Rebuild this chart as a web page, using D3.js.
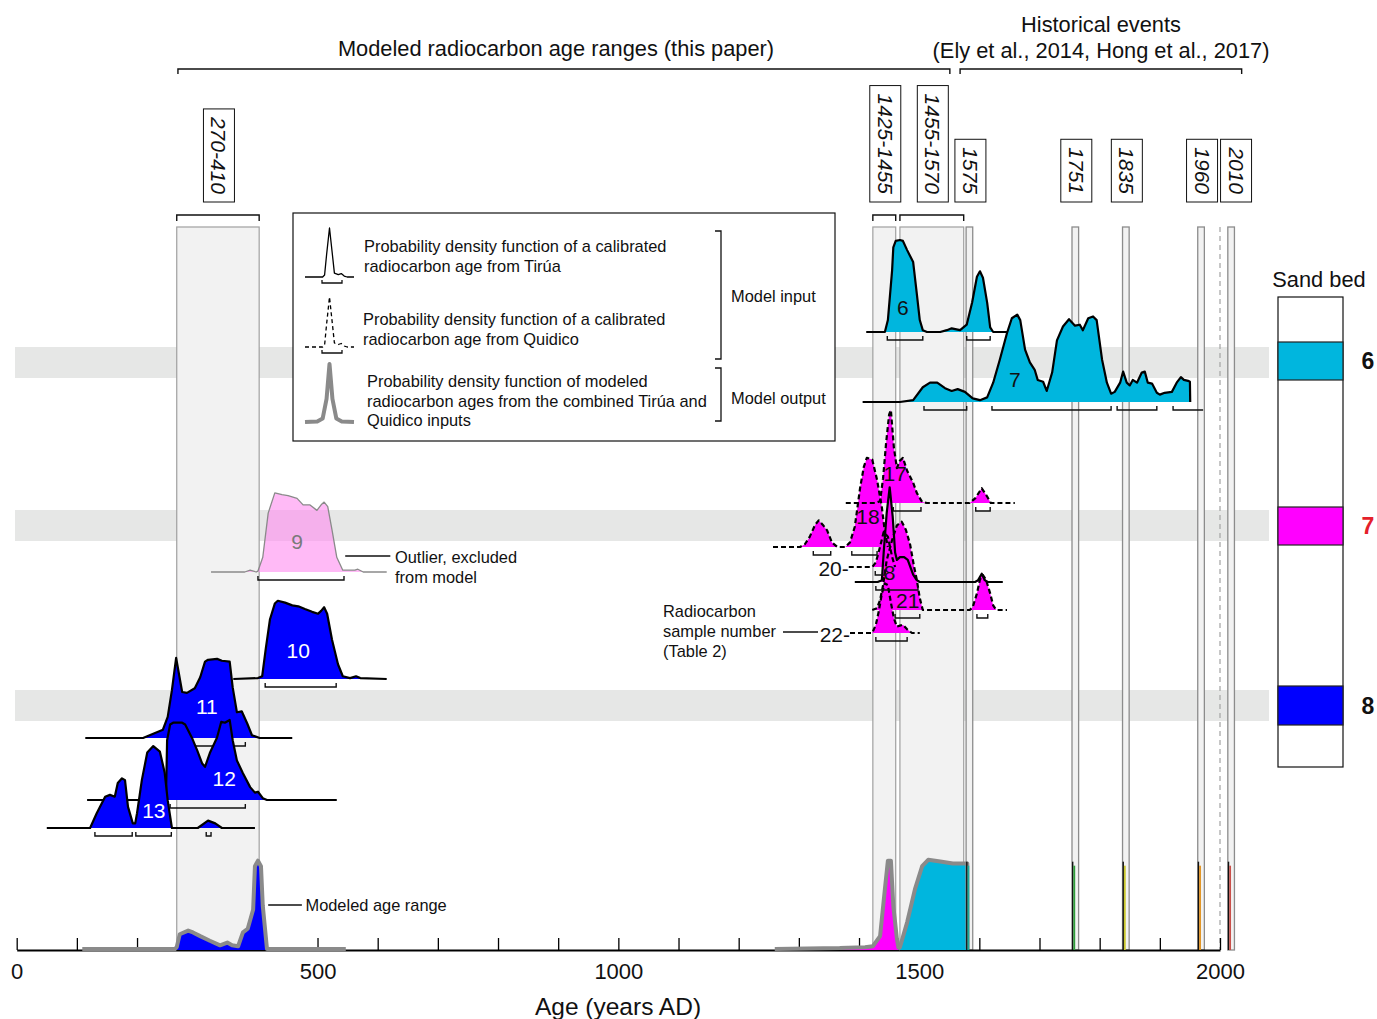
<!DOCTYPE html>
<html>
<head>
<meta charset="utf-8">
<script src="https://cdn.jsdelivr.net/npm/d3@7"></script>
<style>
  body { margin: 0; background: #fff; }
  svg text { font-family: "Liberation Sans", Arial, Helvetica, sans-serif; fill: #111; }
</style>
</head>
<body>
<svg id="chart" width="1377" height="1019"></svg>
<script>
// ---- data (years AD, relative probability 0-100) ----
const ageTicks = d3.range(0, 2001, 100);
const ageLabels = [0, 500, 1000, 1500, 2000];

const rangeLabels = ['270-410', '1425-1455', '1455-1570'];
const rangeSpans = [[266, 403], [1423, 1461], [1468, 1574]];

const eventYears = [1575, 1751, 1835, 1960, 2010];
const eventColors = ['#1aa89a', '#2e9e3a', '#c9c72e', '#e0901c', '#c8504a'];
const eventPeak = [96, 96, 96, 96, 96];
const presentYear = 2000;

// sand bed 8 (blue)
const s9 = [[323,0],[379,0],[388,2],[398,0],[401,1],[409,16],[418,64],[429,86],[441,84],[451,83],[466,80],[476,73],[487,73],[499,67],[506,73],[511,76],[517,71],[524,46],[532,16],[542,2],[562,2],[567,3],[576,0],[615,0]];
const s10 = [[360,0],[401,1],[408,3],[414,33],[421,65],[429,82],[434,85],[446,83],[458,80],[468,79],[479,76],[491,73],[501,71],[506,74],[511,78],[516,71],[524,43],[534,16],[542,3],[554,1],[564,3],[571,1],[615,0]];
const s11 = [[114,0],[210,0],[243,9],[251,23],[258,52],[265,87],[275,50],[283,49],[296,54],[305,66],[313,83],[318,85],[333,86],[341,84],[354,83],[359,55],[366,28],[374,29],[383,16],[391,3],[404,0],[458,0]];
const s12 = [[117,0],[248,0],[250,65],[255,82],[260,84],[275,84],[280,82],[291,68],[300,54],[308,40],[313,36],[321,51],[333,68],[340,85],[346,84],[354,87],[359,65],[366,43],[376,29],[388,14],[396,8],[401,9],[409,2],[416,0],[532,0]];
const s13 = [[50,0],[122,0],[133,16],[147,34],[155,36],[163,34],[168,49],[175,54],[180,52],[185,23],[193,5],[197,5],[200,16],[208,52],[217,82],[227,89],[238,83],[246,60],[251,30],[258,0],[301,0],[318,8],[330,5],[341,0],[396,0]];

// sand bed 6 (cyan)
const s6 = [[1412,0],[1443,0],[1448,13],[1455,67],[1457,92],[1461,99],[1468,100],[1473,99],[1480,89],[1490,76],[1496,42],[1501,13],[1506,2],[1513,0],[1535,0],[1546,2],[1554,4],[1568,2],[1579,8],[1588,32],[1596,60],[1601,66],[1606,59],[1613,32],[1618,5],[1623,0],[1659,0]];
const s7 = [[1406,0],[1468,0],[1490,2],[1506,16],[1518,21],[1530,21],[1543,15],[1554,12],[1564,14],[1576,11],[1589,4],[1601,2],[1613,5],[1623,21],[1634,46],[1646,75],[1654,91],[1663,95],[1668,89],[1676,57],[1684,43],[1692,35],[1697,24],[1706,22],[1712,12],[1721,32],[1729,67],[1739,82],[1749,90],[1759,83],[1767,84],[1772,78],[1781,91],[1789,93],[1795,89],[1804,46],[1812,21],[1819,9],[1825,11],[1834,21],[1839,33],[1845,21],[1850,18],[1855,24],[1862,21],[1870,32],[1875,33],[1880,21],[1887,20],[1895,10],[1900,8],[1908,10],[1920,11],[1928,21],[1935,27],[1940,24],[1947,23],[1950,22],[1950.5,0]];

// sand bed 7 (magenta)
const s17 = [[1378,0],[1427,0],[1435,2],[1440,27],[1445,65],[1450,96],[1453,101],[1458,60],[1463,38],[1468,46],[1473,49],[1480,35],[1490,22],[1496,11],[1505,1],[1513,0],[1584,0],[1593,5],[1604,16],[1613,7],[1619,0],[1659,0]];
const s18 = [[1257,0],[1302,0],[1310,3],[1318,11],[1327,24],[1333,29],[1340,24],[1347,18],[1355,5],[1364,0],[1377,0],[1385,5],[1393,22],[1402,65],[1408,87],[1413,97],[1422,95],[1430,73],[1438,43],[1443,16],[1448,0]];
const s20 = [[1383,0],[1422,0],[1428,5],[1435,22],[1441,38],[1448,33],[1455,11],[1460,0]];
const s8 = [[1393,0],[1431,0],[1438,2],[1441,32],[1446,75],[1451,103],[1456,71],[1460,32],[1463,24],[1468,27],[1475,27],[1481,24],[1490,8],[1496,2],[1501,0],[1593,0],[1598,2],[1604,9],[1609,2],[1614,0],[1639,0]];
const s21 = [[1422,0],[1430,2],[1435,11],[1440,27],[1446,54],[1455,76],[1463,92],[1471,96],[1478,87],[1485,71],[1491,49],[1496,33],[1501,13],[1506,0],[1584,0],[1589,3],[1596,18],[1601,33],[1606,38],[1611,33],[1618,18],[1623,5],[1628,0],[1646,0]];
const s22 = [[1385,0],[1422,0],[1428,9],[1433,24],[1438,43],[1443,54],[1448,52],[1453,33],[1458,16],[1463,7],[1468,8],[1473,9],[1480,4],[1488,0],[1501,0]];

// highest posterior density ranges
const hpd9 = [[401,544]], hpd10 = [[413,531]], hpd11 = [[258,380]], hpd12 = [[255,380]];
const hpd13 = [[130,192],[198,257],[315,323]];
const hpd6 = [[1447,1506],[1579,1618]];
const hpd7 = [[1508,1579],[1621,1819],[1829,1895],[1922,1972]];
const hpd17 = [[1457,1503],[1594,1618]], hpd18 = [[1324,1353],[1388,1430]], hpd20 = [[1427,1443]];
const hpd8 = [[1428,1498]], hpd21 = [[1460,1501],[1596,1614]], hpd22 = [[1428,1480]];

// modeled outputs
const out8 = [[109,0],[263,0],[266,2],[271,16],[285,20],[293,18],[305,14],[321,9],[338,4],[350,7],[358,4],[368,3],[376,18],[384,22],[393,43],[396,90],[401,96],[406,90],[409,47],[416,0],[547,0]];
const out7 = [[1260,0],[1368,1],[1410,2],[1423,3],[1435,14],[1443,65],[1448,96],[1453,96],[1457,47],[1463,11],[1466,0]];
const out6 = [[1465,0],[1468,2],[1480,29],[1493,65],[1505,90],[1515,97],[1535,95],[1556,93],[1580,93],[1580.5,0]];

const bedIds = ['6', '7', '8'];
const bedColors = ['#00b6de', '#ff00ff', '#0000ff'];
const bedLabelColors = ['#111', '#e4202a', '#111'];

const glyphPdf = [[0,0],[0.36,0],[0.4,0.04],[0.44,0.45],[0.5,1],[0.56,0.45],[0.6,0.08],[0.68,0.05],[0.74,0.07],[0.8,0.02],[0.86,0],[1,0]];
const glyphModel = [[0,0],[0.25,0.01],[0.36,0.06],[0.44,0.4],[0.5,1],[0.56,0.4],[0.64,0.06],[0.75,0.01],[1,0]];

// ---- layout ----
const svg = d3.select('#chart');
const x = d3.scaleLinear().domain([0, 2000]).range([16.7, 1220]);
const dens = d3.scaleLinear().domain([0, 100]).range([0, 92]);
const BAR_TOP = 227, AXIS_Y = 950, BOX_BOTTOM = 202;
const NOTE_SIZE = 16.4;

const samples = [
  {id: '9', pdf: s9, hpd: hpd9, base: 572, bed: 'outlier', label: [466, -31]},
  {id: '10', pdf: s10, hpd: hpd10, base: 679, bed: '8', label: [468, -29]},
  {id: '11', pdf: s11, hpd: hpd11, base: 738, bed: '8', label: [316, -32]},
  {id: '12', pdf: s12, hpd: hpd12, base: 800, bed: '8', label: [345, -22]},
  {id: '13', pdf: s13, hpd: hpd13, base: 828, bed: '8', label: [228, -18]},
  {id: '6', pdf: s6, hpd: hpd6, base: 332, bed: '6', label: [1473, -25]},
  {id: '7', pdf: s7, hpd: hpd7, base: 402, bed: '6', label: [1659, -23], open: true},
  {id: '18', pdf: s18, hpd: hpd18, base: 547, bed: '7', dashed: true, label: [1415, -31]},
  {id: '17', pdf: s17, hpd: hpd17, base: 503, bed: '7', dashed: true, label: [1460, -30]},
  {id: '20', pdf: s20, hpd: hpd20, base: 567, bed: '7', dashed: true, tag: 'left'},
  {id: '22', pdf: s22, hpd: hpd22, base: 633, bed: '7', dashed: true, tag: 'left'},
  {id: '21', pdf: s21, hpd: hpd21, base: 610, bed: '7', dashed: true, label: [1481, -10]},
  {id: '8', pdf: s8, hpd: hpd8, base: 582, bed: '7', label: [1451, -10]}
];
const bedColor = id => bedColors[bedIds.indexOf(id)];

// horizontal sand-bed bands
svg.append('g').selectAll('rect')
  .data([[347, 378], [510, 541], [690, 721]])
  .join('rect')
  .attr('x', 15).attr('width', 1254)
  .attr('y', d => d[0]).attr('height', d => d[1] - d[0])
  .attr('fill', '#e6e7e6');

// vertical age-range bars
const gBars = svg.append('g');
gBars.selectAll('rect.range').data(rangeSpans).join('rect')
  .attr('class', 'range')
  .attr('x', d => x(d[0])).attr('width', d => x(d[1]) - x(d[0]))
  .attr('y', BAR_TOP).attr('height', AXIS_Y - BAR_TOP)
  .attr('fill', '#f2f2f2').attr('stroke', '#a0a0a0').attr('stroke-width', 1.2);

gBars.selectAll('rect.event').data(eventYears).join('rect')
  .attr('class', 'event')
  .attr('x', d => x(d + 3)).attr('width', d => x(d + 14) - x(d + 3))
  .attr('y', BAR_TOP).attr('height', AXIS_Y - BAR_TOP)
  .attr('fill', '#f2f2f2').attr('stroke', '#8c8c8c').attr('stroke-width', 1.3);

gBars.append('line')
  .attr('x1', x(presentYear)).attr('x2', x(presentYear))
  .attr('y1', BAR_TOP).attr('y2', AXIS_Y)
  .attr('stroke', '#aaa').attr('stroke-width', 1.3).attr('stroke-dasharray', '5,4');

// label boxes above the bars
let lastBoxRight = -Infinity;
function labelBox(cx, txt) {
  cx = Math.max(cx, lastBoxRight + 3 + 15.5);
  lastBoxRight = cx + 15.5;
  const g = svg.append('g');
  const t = g.append('text')
    .attr('font-size', 21).attr('font-style', 'italic')
    .attr('text-anchor', 'middle').attr('dominant-baseline', 'central')
    .text(txt);
  const len = t.node().getComputedTextLength();
  const h = len + 16;
  const cy = BOX_BOTTOM - h / 2;
  t.attr('transform', `translate(${cx},${cy}) rotate(90)`);
  g.insert('rect', 'text')
    .attr('x', cx - 15.5).attr('y', BOX_BOTTOM - h)
    .attr('width', 31).attr('height', h)
    .attr('fill', '#fff').attr('stroke', '#111').attr('stroke-width', 1);
}
rangeLabels.forEach((lab, i) => {
  const sp = rangeSpans[i];
  labelBox((x(sp[0]) + x(sp[1])) / 2 + 1, lab);
  svg.append('path')
    .attr('d', `M${x(sp[0])},221V215H${x(sp[1])}V221`)
    .attr('fill', 'none').attr('stroke', '#111').attr('stroke-width', 1.4);
});
eventYears.forEach(y => labelBox((x(y + 3) + x(y + 14)) / 2 + 1, String(y)));

// top brackets and headings
const gTop = svg.append('g');
gTop.append('path').attr('d', `M${x(268)},74V69H${x(1551)}V74`)
  .attr('fill', 'none').attr('stroke', '#111').attr('stroke-width', 1.4);
gTop.append('path').attr('d', `M${x(1568)},74V69H${x(2036)}V74`)
  .attr('fill', 'none').attr('stroke', '#111').attr('stroke-width', 1.4);
gTop.append('text').attr('x', 556).attr('y', 48).attr('text-anchor', 'middle')
  .attr('dominant-baseline', 'central').attr('font-size', 21.8)
  .text('Modeled radiocarbon age ranges (this paper)');
gTop.append('text').attr('x', 1101).attr('y', 24).attr('text-anchor', 'middle')
  .attr('dominant-baseline', 'central').attr('font-size', 21.8).text('Historical events');
gTop.append('text').attr('x', 1101).attr('y', 50).attr('text-anchor', 'middle')
  .attr('dominant-baseline', 'central').attr('font-size', 21.8)
  .text('(Ely et al., 2014, Hong et al., 2017)');

// ---- distributions ----
function areaFor(base) {
  return d3.area().x(d => x(d[0])).y0(base).y1(d => base - dens(d[1]));
}
function lineFor(base) {
  return d3.line().x(d => x(d[0])).y(d => base - dens(d[1]));
}
function drawFill(g, s) {
  const isOut = s.bed === 'outlier';
  g.append('path').datum(s.pdf)
    .attr('d', areaFor(s.base))
    .attr('fill', isOut ? '#ff8cf0' : bedColor(s.bed))
    .attr('fill-opacity', isOut ? 0.6 : 1);
}
function drawOutline(g, s) {
  const isOut = s.bed === 'outlier';
  g.append('path').datum(s.pdf)
    .attr('d', lineFor(s.base))
    .attr('fill', 'none')
    .attr('stroke', isOut ? '#8a8a8a' : '#000')
    .attr('stroke-width', isOut ? 1.3 : 2.2)
    .attr('stroke-linejoin', 'round')
    .attr('stroke-dasharray', s.dashed ? '5,3' : null);
}
function drawHpd(g, s) {
  s.hpd.forEach((r, i) => {
    const yb = s.base + 8, x0 = x(r[0]), x1 = x(r[1]);
    const open = s.open && i === s.hpd.length - 1;
    g.append('path')
      .attr('d', open ? `M${x0},${yb - 4}V${yb}H${x1}` : `M${x0},${yb - 4}V${yb}H${x1}V${yb - 4}`)
      .attr('fill', 'none').attr('stroke', '#111').attr('stroke-width', 1.4);
  });
}
function drawLabel(g, s) {
  if (s.tag === 'left') {
    g.append('text').attr('x', x(s.pdf[0][0])).attr('y', s.base + 1)
      .attr('text-anchor', 'end').attr('dominant-baseline', 'central')
      .attr('font-size', 21).text(s.id + '-');
    return;
  }
  const fill = s.bed === '8' ? '#fff' : (s.bed === 'outlier' ? '#7a7a7a' : '#111');
  g.append('text').attr('x', x(s.label[0])).attr('y', s.base + s.label[1])
    .attr('text-anchor', 'middle').attr('dominant-baseline', 'central')
    .attr('font-size', 21).style('fill', fill).text(s.id);
}

const gPdf = svg.append('g');
// blue and cyan: each drawn in full, later ones on top
samples.filter(s => s.bed !== '7').forEach(s => {
  const g = gPdf.append('g');
  drawFill(g, s); drawOutline(g, s); drawHpd(g, s);
});
// magenta cluster: fills first, then outlines
const mag = samples.filter(s => s.bed === '7');
const gMag = gPdf.append('g');
mag.forEach(s => drawFill(gMag, s));
mag.forEach(s => drawOutline(gMag, s));
mag.forEach(s => drawHpd(gMag, s));
samples.forEach(s => drawLabel(gPdf, s));

// ---- axis ----
const gAxis = svg.append('g').attr('transform', `translate(0,${AXIS_Y})`)
  .call(d3.axisBottom(x).tickValues(ageTicks).tickSize(-12).tickSizeOuter(0).tickPadding(13)
    .tickFormat(d => ageLabels.includes(d) ? d : ''));
gAxis.select('.domain').attr('stroke', '#000').attr('stroke-width', 2);
gAxis.selectAll('.tick line').attr('stroke', '#000').attr('stroke-width', 1.3);
gAxis.selectAll('.tick text').attr('font-size', 22).attr('font-family', null).style('fill', '#111');
svg.append('text').attr('x', 618).attr('y', 1006).attr('text-anchor', 'middle')
  .attr('dominant-baseline', 'central').attr('font-size', 24.5).text('Age (years AD)');

// modeled outputs on the axis
const gOut = svg.append('g');
[[out8, '#0000ff'], [out7, '#ff00ff'], [out6, '#00b6de']].forEach(([d, c]) => {
  gOut.append('path').datum(d).attr('d', areaFor(AXIS_Y)).attr('fill', c);
});
[out8, out7, out6].forEach(d => {
  gOut.append('path').datum(d).attr('d', lineFor(AXIS_Y - 1))
    .attr('fill', 'none').attr('stroke', '#8a8a8a').attr('stroke-width', 4)
    .attr('stroke-linejoin', 'round');
});
eventYears.forEach((y, i) => {
  const xx = x(y + 5);
  gOut.append('rect').attr('x', xx - 1.2).attr('width', 1.4)
    .attr('y', AXIS_Y - dens(eventPeak[i])).attr('height', dens(eventPeak[i])).attr('fill', '#111');
  gOut.append('rect').attr('x', xx + 0.2).attr('width', 1.8)
    .attr('y', AXIS_Y - dens(eventPeak[i]) + 4).attr('height', dens(eventPeak[i]) - 4).attr('fill', eventColors[i]);
});

// ---- annotations ----
const ann = svg.append('g');
function annLine(x1, x2, y) {
  ann.append('line').attr('x1', x1).attr('x2', x2).attr('y1', y).attr('y2', y)
    .attr('stroke', '#111').attr('stroke-width', 1.3);
}
function annText(xx, y, txt) {
  ann.append('text').attr('x', xx).attr('y', y).attr('dominant-baseline', 'central')
    .attr('font-size', NOTE_SIZE).text(txt);
}
annLine(x(418), x(474), 905);
annText(x(480), 905, 'Modeled age range');
annLine(x(546), x(621), 556);
annText(395, 557, 'Outlier, excluded');
annText(395, 577, 'from model');
annText(663, 611, 'Radiocarbon');
annText(663, 631, 'sample number');
annText(663, 651, '(Table 2)');
annLine(783, 818, 632);

// ---- legend box ----
const lg = svg.append('g');
lg.append('rect').attr('x', 293).attr('y', 213).attr('width', 542).attr('height', 228)
  .attr('fill', '#fff').attr('stroke', '#111').attr('stroke-width', 1.2);
const gx = d3.scaleLinear().domain([0, 1]).range([305, 354]);
function glyph(shape, base, h, stroke, width, dash) {
  lg.append('path').datum(shape)
    .attr('d', d3.line().x(d => gx(d[0])).y(d => base - d[1] * h))
    .attr('fill', 'none').attr('stroke', stroke).attr('stroke-width', width)
    .attr('stroke-dasharray', dash).attr('stroke-linejoin', 'round');
}
glyph(glyphPdf, 277, 49, '#000', 1.3, null);
glyph(glyphPdf, 347, 50, '#000', 1.3, '4,3');
glyph(glyphModel, 422, 58, '#8a8a8a', 4, null);
lg.append('path').attr('d', 'M322,280V283H342V280').attr('fill', 'none').attr('stroke', '#111').attr('stroke-width', 1.3);
lg.append('path').attr('d', 'M322,350V353H342V350').attr('fill', 'none').attr('stroke', '#111').attr('stroke-width', 1.3);
[['Probability density function of a calibrated', 364, 246],
 ['radiocarbon age from Tirúa', 364, 266],
 ['Probability density function of a calibrated', 363, 319],
 ['radiocarbon age from Quidico', 363, 339],
 ['Probability density function of modeled', 367, 381],
 ['radiocarbon ages from the combined Tirúa and', 367, 401],
 ['Quidico inputs', 367, 420],
 ['Model input', 731, 296],
 ['Model output', 731, 398]].forEach(([t, xx, y]) => {
  lg.append('text').attr('x', xx).attr('y', y).attr('dominant-baseline', 'central')
    .attr('font-size', NOTE_SIZE).text(t);
});
lg.append('path').attr('d', 'M715,231H721V359H715').attr('fill', 'none').attr('stroke', '#111').attr('stroke-width', 1.3);
lg.append('path').attr('d', 'M715,368H721V421H715').attr('fill', 'none').attr('stroke', '#111').attr('stroke-width', 1.3);

// ---- sand bed column ----
const col = svg.append('g');
col.append('text').attr('x', 1319).attr('y', 279).attr('text-anchor', 'middle')
  .attr('dominant-baseline', 'central').attr('font-size', 21.8).text('Sand bed');
col.append('rect').attr('x', 1278).attr('y', 297).attr('width', 65).attr('height', 470)
  .attr('fill', '#fff').attr('stroke', '#111').attr('stroke-width', 1.2);
const bedBoxes = [[342, 380], [507, 545], [686, 725]];
col.selectAll('rect.bed').data(bedIds).join('rect').attr('class', 'bed')
  .attr('x', 1278).attr('width', 65)
  .attr('y', (d, i) => bedBoxes[i][0]).attr('height', (d, i) => bedBoxes[i][1] - bedBoxes[i][0])
  .attr('fill', (d, i) => bedColors[i]).attr('stroke', '#222').attr('stroke-width', 1.2);
col.selectAll('text.bedlab').data(bedIds).join('text').attr('class', 'bedlab')
  .attr('x', 1368).attr('y', (d, i) => (bedBoxes[i][0] + bedBoxes[i][1]) / 2)
  .attr('text-anchor', 'middle').attr('dominant-baseline', 'central')
  .attr('font-size', 23).attr('font-weight', 'bold')
  .style('fill', (d, i) => bedLabelColors[i]).text(d => d);
</script>
</body>
</html>
